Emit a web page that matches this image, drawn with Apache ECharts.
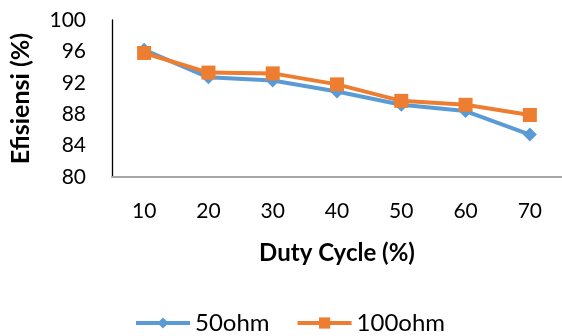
<!DOCTYPE html>
<html><head><meta charset="utf-8">
<script src="https://cdn.jsdelivr.net/npm/echarts@6/dist/echarts.min.js"></script>
<style>html,body{margin:0;padding:0;background:#fff}#c{width:562px;height:336px}</style>
</head><body><div id="c"></div>
<script>
const categories = ['10','20','30','40','50','60','70'];
const ohm50 = [96.2, 92.7, 92.3, 90.9, 89.2, 88.4, 85.4];
const ohm100 = [95.8, 93.3, 93.2, 91.8, 89.7, 89.2, 87.9];
const yTicks = {min: 80, max: 100, interval: 4};
const FONT = 'Lato';
const chart = echarts.init(document.getElementById('c'));
chart.setOption({
  animation: false,
  grid: {left: 110, top: 20, width: 455, height: 157},
  legend: {
    top: 306, left: 129, itemWidth: 54, itemHeight: 14, itemGap: 26,
    lineStyle: {width: 4},
    textStyle: {fontFamily: FONT, fontSize: 24, color: '#000'},
    data: ['50ohm', '100ohm']
  },
  xAxis: {
    type: 'category', data: categories, boundaryGap: true,
    name: 'Duty Cycle (%)', nameLocation: 'middle', nameGap: 64,
    nameTextStyle: {fontFamily: FONT, fontSize: 24, fontWeight: 'bold', color: '#000'},
    axisLine: {lineStyle: {color: '#A6A6A6', width: 2}},
    axisTick: {show: false},
    axisLabel: {fontFamily: FONT, fontSize: 21, color: '#000', margin: 24}
  },
  yAxis: {
    type: 'value', min: yTicks.min, max: yTicks.max, interval: yTicks.interval,
    name: 'Efisiensi (%)', nameLocation: 'middle', nameGap: 79,
    nameTextStyle: {fontFamily: FONT, fontSize: 25, fontWeight: 'bold', color: '#000'},
    axisLine: {show: true, lineStyle: {color: '#000', width: 1.3}},
    axisTick: {show: false},
    splitLine: {show: false},
    axisLabel: {fontFamily: FONT, fontSize: 21, color: '#000', margin: 26}
  },
  series: [
    {name: '50ohm', type: 'line', data: ohm50, symbol: 'diamond', symbolSize: 14,
     lineStyle: {color: '#5B9BD5', width: 4}, itemStyle: {color: '#5B9BD5'}},
    {name: '100ohm', type: 'line', data: ohm100, symbol: 'rect', symbolSize: 14,
     lineStyle: {color: '#ED7D31', width: 4}, itemStyle: {color: '#ED7D31'}}
  ]
});
</script></body></html>
